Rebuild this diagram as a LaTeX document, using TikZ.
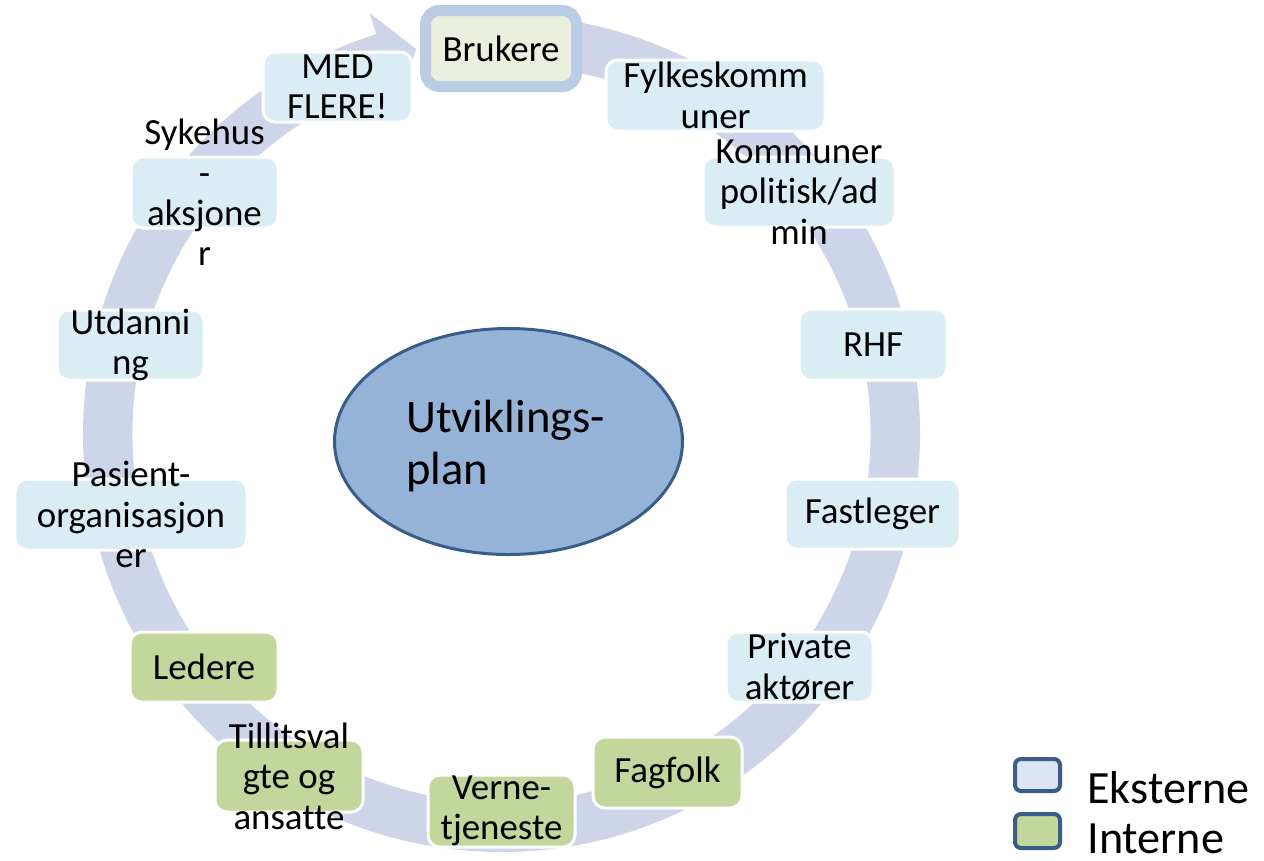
\documentclass[tikz,border=0pt]{standalone}
\usepackage{fontspec}
\setmainfont{Carlito}[Ligatures=NoCommon]
\usetikzlibrary{shapes.geometric}
\definecolor{ringc}{RGB}{207,213,233}
\definecolor{extc}{RGB}{218,236,244}
\definecolor{intc}{RGB}{195,214,155}
\definecolor{brukfill}{RGB}{235,240,222}
\definecolor{brukbord}{RGB}{185,205,229}
\definecolor{ellfill}{RGB}{149,179,215}
\definecolor{ellbord}{RGB}{56,93,138}
\definecolor{legext}{RGB}{220,230,242}
\begin{document}
\begin{tikzpicture}[x=0.02cm,y=-0.02cm,
  sz/.style 2 args={minimum width=#1*0.02cm, minimum height=#2*0.02cm},
  bx/.style={draw=white, line width=0.06cm, rounded corners=0.24cm, inner sep=0pt},
  ext/.style={bx, fill=extc},
  int/.style={bx, fill=intc},
  txt/.style={align=center, inner sep=0pt, font=\fontsize{21}{23}\selectfont},
  legbox/.style={draw=ellbord, line width=0.08cm, rounded corners=0.12cm, inner sep=0pt},
  legtxt/.style={anchor=base west, inner sep=0pt, font=\fontsize{26.3}{32}\selectfont}
]
\useasboundingbox (0,0) rectangle (1264,860);

% ring arrow
\begin{scope}[shift={(501.5,433.5)}]
\fill[ringc] (-85:418.5) arc[start angle=-85, end angle=252.6, radius=418.5]
  -- (252.6:440.6) -- (257.5:393.75) -- (252.6:347) -- (252.6:369)
  arc[start angle=252.6, end angle=-85, radius=369] -- cycle;
\end{scope}

% boxes
\node[draw=brukbord, fill=brukfill, line width=0.22cm, rounded corners=0.28cm, inner sep=0pt, sz={151}{76}] (bruk) at (501,48.5) {};
\node[ext, sz={219}{71}] (fylk) at (715.5,95.5) {};
\node[ext, sz={192}{70}] (komm) at (799,192) {};
\node[ext, sz={148}{71}] (rhf) at (873,344.5) {};
\node[ext, sz={175}{70}] (fast) at (872.5,514) {};
\node[ext, sz={147}{70}] (priv) at (799.5,667) {};
\node[int, sz={149}{71}] (fagf) at (667.5,772.5) {};
\node[int, sz={147}{72}] (vern) at (501.5,811) {};
\node[int, sz={148}{72}] (till) at (289,776) {};
\node[int, sz={148}{70}] (lede) at (204,667) {};
\node[ext, sz={232}{71}] (pasi) at (131,514.5) {};
\node[ext, sz={147}{70}] (utda) at (130.5,345) {};
\node[ext, sz={147}{71}] (syke) at (204.5,192.5) {};
\node[ext, sz={149}{70}] (medf) at (337.5,87) {};

% texts
\node[txt] (tbruk) at (bruk) {Brukere};
\node[txt] (tfylk) at (fylk) {Fylkeskomm\\uner};
\node[txt] (tkomm) at (komm) {Kommuner\\politisk/ad\\min};
\node[txt] (trhf) at (rhf) {RHF};
\node[txt] (tfast) at (fast) {Fastleger};
\node[txt] (tpriv) at (priv) {Private\\aktører};
\node[txt] (tfagf) at (fagf) {Fagfolk};
\node[txt] (tvern) at (vern) {Verne-\\tjeneste};
\node[txt] (ttill) at (till) {Tillitsval\\gte og\\ansatte};
\node[txt] (tlede) at (lede) {Ledere};
\node[txt] (tpasi) at (pasi) {Pasient-\\organisasjon\\er};
\node[txt] (tutda) at (utda) {Utdanni\\ng};
\node[txt] (tsyke) at (syke) {Sykehus\\-\\aksjone\\r};
\node[txt] (tmedf) at (medf) {MED\\FLERE!};

% centre ellipse
\node[ellipse, draw=ellbord, fill=ellfill, line width=0.06cm, inner sep=0pt, sz={348}{226}] (plan) at (508.5,441.5) {};
\node[anchor=west, align=left, inner sep=0pt, font=\fontsize{26.5}{29.6}\selectfont] (tplan) at (406,446) {Utviklings-\\plan};

% legend
\node[legbox, fill=legext, sz={45}{32}] (lext) at (1037.5,775) {};
\node[legbox, fill=intc, sz={45}{34}] (lint) at (1037.5,831) {};
\node[legtxt] (text) at (1087,803) {Eksterne};
\node[legtxt] (tint) at (1087,853) {Interne};
\end{tikzpicture}
\end{document}
